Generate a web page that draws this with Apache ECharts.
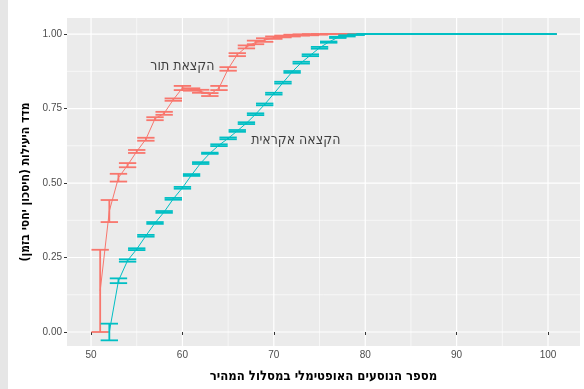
<!DOCTYPE html>
<html>
<head>
<meta charset="utf-8">
<script src="https://cdn.jsdelivr.net/npm/echarts@6/dist/echarts.min.js"></script>
<style>
  html, body { margin: 0; padding: 0; background: #ffffff; }
  #chart { width: 584px; height: 389px; }
</style>
</head>
<body>
<div id="chart"></div>
<script>
// Number of optimal passengers in the fast lane (x) for each allocation method
const queueX = [51,52,53,54,55,56,57,58,59,60,61,62,63,64,65,66,67,68,69,70,71,72,73,74,75,
  76,77,78,79,80,81,82,83,84,85,86,87,88,89,90,91,92,93,94,95,96,97,98,99,100];
const queueMean = [0.138,0.406,0.518,0.560,0.606,0.647,0.716,0.734,0.780,0.819,0.814,0.808,0.797,0.819,0.883,
  0.931,0.957,0.972,0.980,0.988,0.992,0.995,0.997,0.998,0.999,
  1,1,1,1,1,1,1,1,1,1,1,1,1,1,1,1,1,1,1,1,1,1,1,1,1];
const queueErr = [0.138,0.037,0.013,0.007,0.005,0.005,0.005,0.005,0.004,0.007,0.004,0.005,0.005,0.007,0.006,
  0.005,0.005,0.006,0.006,0.004,0.003,0.003,0.002,0.002,0.001,
  0,0,0,0,0,0,0,0,0,0,0,0,0,0,0,0,0,0,0,0,0,0,0,0,0];

const randomX = [52,53,54,55,56,57,58,59,60,61,62,63,64,65,66,67,68,69,70,71,72,73,74,75,76,77,78,79,
  80,81,82,83,84,85,86,87,88,89,90,91,92,93,94,95,96,97,98,99,100];
const randomMean = [0.000,0.172,0.240,0.278,0.323,0.366,0.403,0.447,0.484,0.527,0.567,0.600,0.627,0.650,
  0.675,0.701,0.731,0.764,0.800,0.837,0.873,0.904,0.929,0.954,0.973,0.989,0.994,0.998,
  1,1,1,1,1,1,1,1,1,1,1,1,1,1,1,1,1,1,1,1,1];
const randomErr = [0.028,0.008,0.004,0.003,0.003,0.003,0.003,0.003,0.003,0.003,0.003,0.002,0.003,0.003,
  0.003,0.003,0.003,0.003,0.003,0.003,0.003,0.003,0.003,0.003,0.002,0.002,0.002,0.001,
  0,0,0,0,0,0,0,0,0,0,0,0,0,0,0,0,0,0,0,0,0];

// Axis ticks and panel grid lines
const xTicks = [50,60,70,80,90,100];
const yTicks = [0,0.25,0.5,0.75,1];
const xMinor = [55,65,75,85,95];
const yMinor = [0.125,0.375,0.625,0.875];

// Text
const xTitle = 'מספר הנוסעים האופטימלי במסלול המהיר';
const yTitle = 'מדד היעילות (חיסכון יחסי בזמן)\u200F';
const annotationNames = ['הקצאת תור', 'הקצאה אקראית'];
const annotationX = [60.0, 72.4];
const annotationY = [0.893, 0.644];

const RED = '#F8766D';
const TEAL = '#00BFC4';
const FONT = '"Liberation Sans", Arial, sans-serif';
const HEB_FONT = '"DejaVu Sans Condensed", "DejaVu Sans", sans-serif';

function bars(xs, means, errs) {
  return xs.map((x, i) => [x, means[i] - errs[i], means[i] + errs[i]]);
}
function points(xs, means) {
  return xs.map((x, i) => [x, means[i]]);
}

function errorBarRenderer(color) {
  return function (params, api) {
    const x = api.value(0);
    const lo = api.coord([x, api.value(1)]);
    const hi = api.coord([x, api.value(2)]);
    const half = api.size([1.9, 0])[0] / 2;
    const style = { stroke: color, lineWidth: 1.8, fill: null };
    return {
      type: 'group',
      children: [
        { type: 'line', shape: { x1: lo[0], y1: lo[1], x2: hi[0], y2: hi[1] }, style },
        { type: 'line', shape: { x1: lo[0] - half, y1: lo[1], x2: lo[0] + half, y2: lo[1] }, style },
        { type: 'line', shape: { x1: hi[0] - half, y1: hi[1], x2: hi[0] + half, y2: hi[1] }, style }
      ]
    };
  };
}

function gridLineRenderer(vertical, width) {
  return function (params, api) {
    const cs = params.coordSys;
    const p = api.coord(vertical ? [api.value(0), 0.5] : [75, api.value(0)]);
    const shape = vertical
      ? { x1: p[0], y1: cs.y, x2: p[0], y2: cs.y + cs.height }
      : { x1: cs.x, y1: p[1], x2: cs.x + cs.width, y2: p[1] };
    return { type: 'line', shape, style: { stroke: '#FFFFFF', lineWidth: width } };
  };
}

const chart = echarts.init(document.getElementById('chart'), null, { renderer: 'canvas' });

chart.setOption({
  animation: false,
  backgroundColor: '#FFFFFF',
  graphic: [
    { type: 'rect', left: 0, top: 0, shape: { width: 8, height: 389 }, style: { fill: '#E6E6E6' }, z: -10 }
  ],
  grid: {
    left: 67, right: 4, top: 18, bottom: 43,
    outerBoundsMode: 'none',
    containLabel: false,
    show: true, backgroundColor: '#EBEBEB', borderWidth: 0
  },
  xAxis: {
    type: 'value', min: 47.37, max: 103.5,
    name: xTitle, nameLocation: 'middle', nameGap: 24,
    nameTextStyle: { fontFamily: HEB_FONT, fontSize: 13, fontWeight: 'bold', color: '#000000' },
    axisLine: { show: false },
    splitLine: { show: false },
    axisTick: { show: true, customValues: xTicks, length: 3, lineStyle: { color: '#333333', width: 1 } },
    axisLabel: { customValues: xTicks, margin: 4, fontFamily: FONT, fontSize: 10, color: '#4D4D4D' }
  },
  yAxis: {
    type: 'value', min: -0.047, max: 1.054,
    name: yTitle, nameLocation: 'middle', nameGap: 33, nameRotate: 90,
    nameTextStyle: { fontFamily: HEB_FONT, fontSize: 12, fontWeight: 'bold', color: '#000000' },
    axisLine: { show: false },
    splitLine: { show: false },
    axisTick: { show: true, customValues: yTicks, length: 3, lineStyle: { color: '#333333', width: 1 } },
    axisLabel: {
      customValues: yTicks, margin: 5, fontFamily: FONT, fontSize: 10, color: '#4D4D4D',
      formatter: v => Number(v).toFixed(2)
    }
  },
  series: [
    { type: 'custom', silent: true, z: 0, renderItem: gridLineRenderer(true, 0.6), data: xMinor.map(v => [v]), encode: { x: 0 } },
    { type: 'custom', silent: true, z: 0, renderItem: gridLineRenderer(false, 0.6), data: yMinor.map(v => [v]), encode: { y: 0 } },
    { type: 'custom', silent: true, z: 0, renderItem: gridLineRenderer(true, 1.2), data: xTicks.map(v => [v]), encode: { x: 0 } },
    { type: 'custom', silent: true, z: 0, renderItem: gridLineRenderer(false, 1.2), data: yTicks.map(v => [v]), encode: { y: 0 } },
    {
      name: annotationNames[0], type: 'line', z: 2, data: points(queueX, queueMean),
      showSymbol: false, symbol: 'none', lineStyle: { color: RED, width: 1 }
    },
    {
      name: annotationNames[0] + ' bars', type: 'custom', z: 3, renderItem: errorBarRenderer(RED),
      data: bars(queueX, queueMean, queueErr), encode: { x: 0, y: [1, 2] }
    },
    {
      name: annotationNames[1], type: 'line', z: 4, data: points(randomX, randomMean),
      showSymbol: false, symbol: 'none', lineStyle: { color: TEAL, width: 1 }
    },
    {
      name: annotationNames[1] + ' bars', type: 'custom', z: 5, renderItem: errorBarRenderer(TEAL),
      data: bars(randomX, randomMean, randomErr), encode: { x: 0, y: [1, 2] }
    },
    {
      type: 'scatter', z: 6, symbolSize: 0, silent: true,
      data: annotationNames.map((n, i) => ({ name: n, value: [annotationX[i], annotationY[i]] })),
      label: {
        show: true, position: 'inside', formatter: '{b}',
        fontFamily: HEB_FONT, fontSize: 14, color: '#111111'
      }
    }
  ]
});
</script>
</body>
</html>
